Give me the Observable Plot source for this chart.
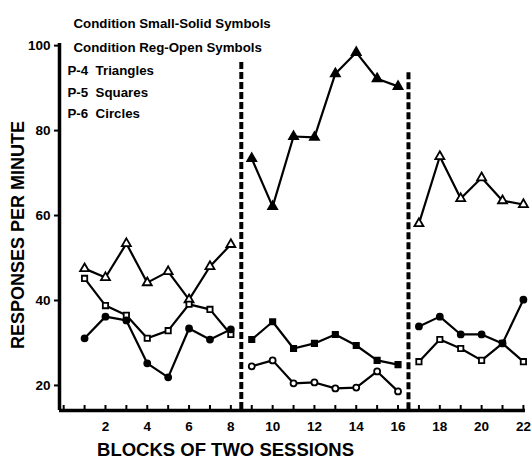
<!DOCTYPE html>
<html>
<head>
<meta charset="utf-8">
<script src="https://cdn.jsdelivr.net/npm/d3@7"></script>
<script src="https://cdn.jsdelivr.net/npm/@observablehq/plot@0.6"></script>
<style>
  html, body { margin: 0; padding: 0; background: #fff; }
  svg text { white-space: pre; }
</style>
</head>
<body>
<div id="chart"></div>
<script>
// ---- data ----
const subjects = ["P-4", "P-5", "P-6"];
const symbolsBySubject = ["triangle", "square", "circle"];
const phaseBlocks = [
  [1, 2, 3, 4, 5, 6, 7, 8],
  [9, 10, 11, 12, 13, 14, 15, 16],
  [17, 18, 19, 20, 21, 22]
];
// condition per phase (Small = solid symbols, Reg = open symbols)
const conditionP4 = ["Reg", "Small", "Reg"];
const conditionP5 = ["Reg", "Small", "Reg"];
const conditionP6 = ["Small", "Reg", "Small"];

const p4 = [47.5, 45.4, 53.4, 44.2, 46.8, 40.2, 48.0, 53.2,
            73.4, 62.1, 78.6, 78.4, 93.4, 98.4, 92.2, 90.4,
            58.1, 73.9, 64.0, 68.9, 63.5, 62.6];
const p5 = [45.2, 38.8, 36.5, 31.1, 32.9, 39.1, 37.9, 32.0,
            30.8, 35.0, 28.7, 29.9, 32.0, 29.4, 25.9, 24.9,
            25.6, 30.8, 28.7, 25.9, 29.9, 25.6];
const p6 = [31.1, 36.2, 35.3, 25.2, 21.9, 33.4, 30.8, 33.2,
            24.5, 25.9, 20.5, 20.7, 19.3, 19.5, 23.3, 18.6,
            33.9, 36.2, 32.0, 32.0, 29.9, 40.2];

const dividerX = [8.5, 16.5];
const dividerTop = [96, 93.6];

const yTicks = [20, 40, 60, 80, 100];
const xTicks = d3.range(0, 23);
const xLabelTicks = [2, 4, 6, 8, 10, 12, 14, 16, 18, 20, 22];

const legendLines = [
  "Condition Small-Solid Symbols",
  "Condition Reg-Open Symbols",
  "P-4  Triangles",
  "P-5  Squares",
  "P-6  Circles"
];
const xTitle = "BLOCKS OF TWO SESSIONS";
const yTitle = "RESPONSES PER MINUTE";

const xDomain = [-0.2, 22.1];
const yDomain = [14.1, 100.5];

// ---- build table ----
const values = [p4, p5, p6];
const conditions = [conditionP4, conditionP5, conditionP6];
const rows = [];
subjects.forEach((s, si) => {
  let i = 0;
  phaseBlocks.forEach((blocks, pi) => {
    blocks.forEach(b => {
      rows.push({subject: s, block: b, value: values[si][i++], phase: pi,
                 condition: conditions[si][pi], key: s + "-" + pi});
    });
  });
});

const font = "'Liberation Sans', Arial, sans-serif";
const textStyle = {fontFamily: font, fontWeight: "bold", fill: "black", textAnchor: "start"};

const chart = Plot.plot({
  width: 531,
  height: 463,
  marginLeft: 59,
  marginRight: 6,
  marginTop: 43,
  marginBottom: 53,
  style: {fontFamily: font, background: "white", color: "black", overflow: "visible"},
  x: {domain: xDomain, axis: null},
  y: {domain: yDomain, axis: null},
  symbol: {domain: subjects, range: symbolsBySubject},
  marks: [
    // dashed phase dividers
    Plot.ruleX(dividerX.map((x, i) => ({x, top: dividerTop[i]})),
      {x: "x", y1: "top", y2: yDomain[0], stroke: "black", strokeWidth: 4, strokeDasharray: "7,3"}),
    // axis lines
    Plot.ruleX([xDomain[0]], {y1: yDomain[0], y2: yDomain[1], stroke: "black", strokeWidth: 3.5}),
    Plot.ruleY([yDomain[0]], {x1: xDomain[0], x2: xDomain[1], stroke: "black", strokeWidth: 3.5}),
    // y ticks and labels
    Plot.axisY(yTicks, {anchor: "left", tickSize: 5, tickPadding: 4, tickFormat: d => String(d),
      fontSize: 13.5, fontWeight: "bold", strokeWidth: 2, label: null}),
    // x ticks (pointing up) and labels
    Plot.axisX(xTicks, {anchor: "bottom", tickSize: -5, tickFormat: () => "", strokeWidth: 2, label: null}),
    Plot.axisX(xLabelTicks, {anchor: "bottom", tickSize: 0, tickPadding: 11, fontSize: 13.5, fontWeight: "bold", label: null}),
    // data lines
    Plot.line(rows, {x: "block", y: "value", z: "key", stroke: "black", strokeWidth: 2.2}),
    // data points
    Plot.dot(rows, {x: "block", y: "value", symbol: "subject",
      r: d => d.subject === "P-4" ? 5.2 : 4.2,
      fill: d => d.condition === "Small" ? "black" : "white",
      stroke: "black", strokeWidth: 1.8}),
    // legend text
    Plot.text([legendLines[0]], {...textStyle, frameAnchor: "top-left", dx: 14, dy: -25, fontSize: 13.3}),
    Plot.text([legendLines[1]], {...textStyle, frameAnchor: "top-left", dx: 14, dy: -1, fontSize: 13.3}),
    Plot.text([legendLines[2]], {...textStyle, frameAnchor: "top-left", dx: 8, dy: 22, fontSize: 13.3}),
    Plot.text([legendLines[3]], {...textStyle, frameAnchor: "top-left", dx: 8, dy: 44, fontSize: 13.3}),
    Plot.text([legendLines[4]], {...textStyle, frameAnchor: "top-left", dx: 8, dy: 65, fontSize: 13.3}),
    // axis titles
    Plot.text([xTitle], {...textStyle, textAnchor: "middle", frameAnchor: "bottom", dx: -67, dy: 45, fontSize: 18.5}),
    Plot.text([yTitle], {...textStyle, textAnchor: "middle", frameAnchor: "left", rotate: -90, dx: -41, dy: 8, fontSize: 18})
  ]
});
document.getElementById("chart").appendChild(chart);
</script>
</body>
</html>
